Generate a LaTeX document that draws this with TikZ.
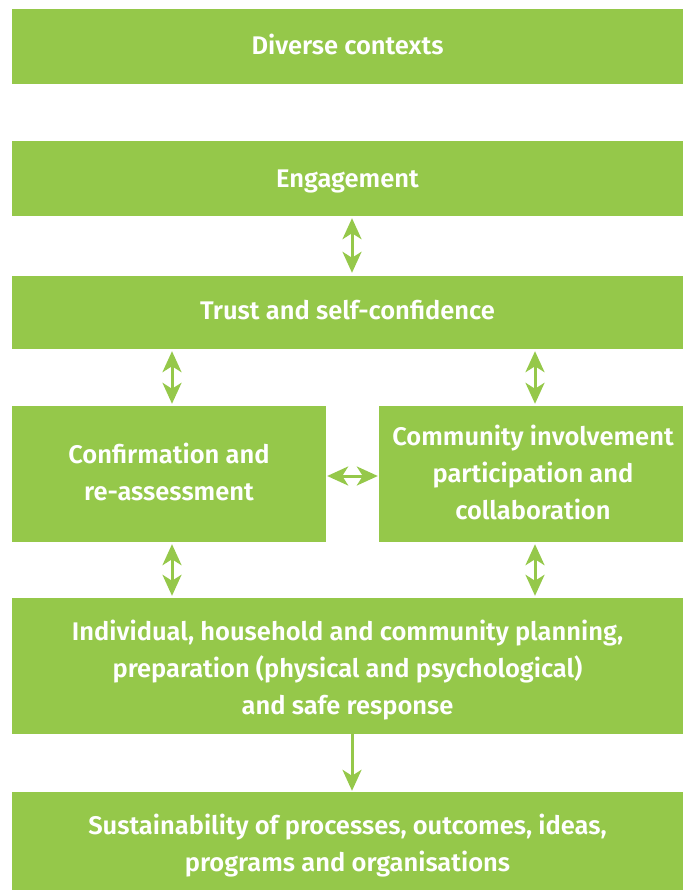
\documentclass[tikz,border=0pt]{standalone}
\usepackage{fontspec}
\setmainfont{Fira Sans}[BoldFont={Fira Sans SemiBold}]
\usetikzlibrary{arrows.meta}
\definecolor{lg}{HTML}{95C84A}
\begin{document}
\begin{tikzpicture}[x=1pt,y=-1pt,
  box/.style={fill=lg,draw=none,inner sep=0pt},
  txt/.style={inner sep=0pt,text=white,font=\bfseries\fontsize{25.5}{37}\selectfont,align=center},
  arr/.style={draw=lg,line width=3pt,{Stealth[length=21pt,width=19pt,inset=6pt]}-{Stealth[length=21pt,width=19pt,inset=6pt]}},
  arrone/.style={draw=lg,line width=3pt,-{Stealth[length=21pt,width=19pt,inset=6pt]}}]
\useasboundingbox (0,0) rectangle (683,890);
\node[box,minimum width=671pt,minimum height=75pt] (dc) at (347.5,46.5) {};
\node[box,minimum width=671pt,minimum height=75pt] (en) at (347.5,178.5) {};
\node[box,minimum width=671pt,minimum height=73pt] (tr) at (347.5,312.5) {};
\node[box,minimum width=314pt,minimum height=136pt] (co) at (169,474) {};
\node[box,minimum width=304pt,minimum height=136pt] (cm) at (531,474) {};
\node[box,minimum width=671pt,minimum height=136pt] (in) at (347.5,666) {};
\node[box,minimum width=671pt,minimum height=98pt] (su) at (347.5,841) {};
\node[txt,yshift=2pt] (tdc) at (dc.center) {Diverse contexts};
\node[txt,yshift=-3pt] (ten) at (en.center) {Engagement};
\node[txt,yshift=2pt] (ttr) at (tr.center) {Trust and self-confidence};
\node[txt,yshift=2pt] (tco) at (co.center) {Confirmation and\\re-assessment};
\node[txt,yshift=2pt,xshift=2pt] (tcm) at (cm.center) {Community involvement\\participation and\\collaboration};
\node[txt,yshift=-4pt] (tin) at (in.center) {Individual, household and community planning,\\preparation (physical and psychological)\\and safe response};
\node[txt,yshift=-5pt] (tsu) at (su.center) {Sustainability of processes, outcomes, ideas,\\programs and organisations};
\coordinate (xl) at (172,0);
\coordinate (xr) at (535,0);
\draw[arr] ([xshift=4.5pt,yshift=-2pt]en.south) -- ([xshift=4.5pt,yshift=3pt]tr.north);
\draw[arr] ([yshift=-2pt]tr.south -| xl) -- ([yshift=2pt]co.north -| xl);
\draw[arr] ([yshift=-2pt]tr.south -| xr) -- ([yshift=2pt]cm.north -| xr);
\draw[arr] ([xshift=1pt,yshift=-2pt]co.east) -- ([xshift=-1pt,yshift=-2pt]cm.west);
\draw[arr] ([yshift=-2pt]co.south -| xl) -- ([yshift=2pt]in.north -| xl);
\draw[arr] ([yshift=-2pt]cm.south -| xr) -- ([yshift=2pt]in.north -| xr);
\draw[arrone] ([xshift=4.5pt]in.south) -- ([xshift=4.5pt,yshift=1pt]su.north);
\end{tikzpicture}
\end{document}
